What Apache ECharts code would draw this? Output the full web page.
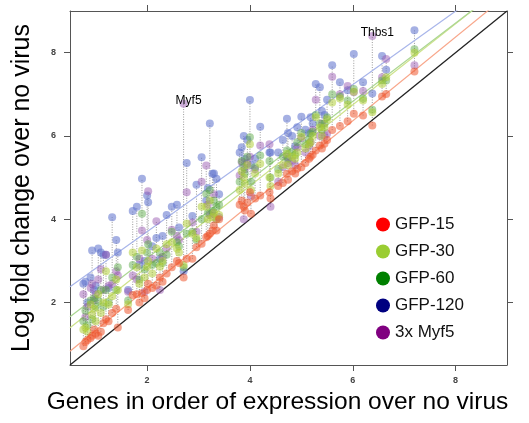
<!DOCTYPE html>
<html>
<head>
<meta charset="utf-8">
<script src="https://cdn.jsdelivr.net/npm/echarts@6/dist/echarts.min.js"></script>
<style>
  html, body { margin: 0; padding: 0; background: #fff; }
  #main { width: 529px; height: 423px; }
</style>
</head>
<body>
<div id="main"></div>
<script>
// gene position on the x axis (order of expression)
var geneX = [0.76, 0.80, 0.84, 0.90, 0.93, 0.97, 1.00, 1.05, 1.10, 1.15, 1.20, 1.25, 1.32, 1.40, 1.43,
  1.63, 1.72, 1.80, 1.85, 1.90, 1.95, 2.00, 2.02, 2.10, 2.18, 2.25, 2.30, 2.38, 2.48, 2.58, 2.62,
  2.71, 2.77, 2.88, 2.96, 3.06, 3.15, 3.18, 3.22, 3.27, 3.30, 3.35, 3.40,
  3.80, 3.84, 3.88, 3.90, 3.95, 4.00, 4.02, 4.10, 4.20, 4.38, 4.40,
  4.55, 4.64, 4.72, 4.74, 4.82, 4.88, 4.92, 5.00, 5.08, 5.15, 5.18, 5.22, 5.28, 5.36, 5.40, 5.45, 5.50, 5.60, 5.75,
  5.90, 6.02, 6.20, 6.38, 6.57, 6.65, 7.20];

// log fold change for each condition
var gfp15 = [0.95, 1.05, 1.10, 1.15, 1.20, 1.35, 1.25, 1.20, 1.30, 1.50, 1.60, 1.55, 1.75, 1.85, 1.40,
  1.82, 2.18, 2.20, 2.00, 2.22, 2.10, 2.30, 2.45, 2.35, 2.41, 2.60, 2.50, 2.70, 2.85, 3.00, 2.95,
  2.60, 3.05, 3.05, 3.33, 3.41, 3.57, 3.60, 3.65, 3.73, 3.85, 3.73, 4.00,
  4.35, 4.45, 4.30, 4.21, 4.40, 4.65, 4.13, 4.50, 4.57, 4.65, 4.50,
  4.80, 4.87, 5.09, 4.95, 5.15, 5.10, 5.21, 5.25, 5.35, 5.45, 5.50, 5.55, 5.65, 5.77, 5.70, 5.81, 5.90, 6.14, 6.24,
  6.35, 6.53, 6.49, 6.25, 6.95, 7.01, 7.55];
var gfp30 = [1.35, 1.40, 1.30, 1.95, 1.70, 1.85, 1.55, 2.20, 1.75, 2.00, 2.75, 1.95, 2.15, 2.55, 2.30,
  1.96, 3.20, 2.85, 2.45, 3.25, 2.60, 2.86, 3.00, 2.70, 3.30, 2.86, 3.00, 3.40, 3.45, 3.30, 3.20,
  2.90, 3.90, 3.65, 3.55, 4.30, 4.30, 4.00, 4.45, 4.05, 4.15, 4.00, 4.10,
  4.70, 5.15, 5.00, 4.85, 5.30, 5.80, 4.70, 5.10, 5.33, 5.00, 4.80,
  5.10, 5.30, 5.57, 5.30, 5.50, 5.45, 5.60, 5.98, 5.70, 5.80, 5.85, 6.00, 6.45, 6.20, 6.00, 6.20, 6.40, 6.80, 6.90,
  6.75, 7.06, 6.85, 6.57, 7.25, 7.41, 8.00];
var gfp60 = [1.55, 1.80, 1.45, 2.05, 1.60, 2.10, 1.90, 2.05, 2.30, 1.90, 2.30, 2.00, 2.60, 2.30, 2.85,
  2.05, 2.90, 3.10, 2.55, 4.13, 2.80, 3.20, 3.40, 2.90, 2.95, 3.20, 2.95, 3.15, 3.70, 3.45, 3.35,
  2.85, 3.65, 3.70, 3.50, 4.00, 4.61, 4.15, 4.70, 4.20, 4.45, 4.30, 4.35,
  4.90, 5.40, 5.25, 5.10, 5.50, 5.97, 4.90, 5.25, 5.53, 5.40, 5.00,
  5.20, 5.50, 5.65, 5.45, 5.60, 5.55, 5.85, 6.07, 5.80, 5.90, 6.05, 6.10, 6.50, 6.30, 6.15, 6.30, 6.45, 7.00, 6.95,
  6.85, 7.13, 6.90, 6.63, 7.33, 7.33, 8.08];
var gfp120 = [2.45, 2.50, 2.00, 2.60, 3.25, 2.30, 2.40, 3.30, 3.20, 3.15, 3.15, 2.35, 4.05, 3.50, 3.20,
  2.30, 4.20, 4.30, 2.90, 4.97, 3.00, 4.57, 4.41, 3.35, 3.55, 3.05, 3.60, 4.10, 4.30, 4.35, 3.80,
  2.75, 5.35, 4.08, 4.83, 5.49, 4.45, 4.75, 6.30, 5.09, 5.10, 4.97, 4.60,
  5.60, 5.73, 6.00, 5.45, 5.90, 6.86, 5.30, 5.45, 6.22, 5.60, 5.60,
  5.60, 5.90, 6.41, 6.07, 6.00, 5.75, 6.21, 6.46, 6.15, 6.07, 6.45, 6.30, 7.25, 7.17, 6.60, 6.50, 6.87, 7.70, 7.29,
  7.10, 7.97, 7.29, 7.02, 7.92, 7.59, 8.54];
var myf5x3 = [2.20, 1.65, 1.90, 2.35, 2.45, 2.05, 2.20, 2.55, 2.80, 2.30, 3.15, 2.40, 2.45, 2.75, 2.65,
  2.26, 2.65, 2.55, 3.05, 3.73, 2.25, 3.50, 4.67, 3.05, 3.95, 2.30, 3.10, 3.30, 3.75, 3.60, 3.50,
  6.77, 4.65, 3.92, 3.70, 4.90, 5.29, 4.35, 4.10, 4.15, 4.60, 4.00, 4.05,
  5.05, 5.37, 4.00, 5.20, 5.35, 5.50, 4.55, 5.20, 5.77, 5.80, 4.30,
  4.90, 5.25, 5.50, 5.35, 5.40, 5.30, 5.72, 5.95, 5.60, 5.75, 5.85, 6.15, 6.87, 6.00, 6.30, 6.00, 6.05, 7.42, 7.00,
  7.20, 7.05, 7.08, 8.40, 7.41, 7.85, 7.70];

var seriesNames = ['GFP-15', 'GFP-30', 'GFP-60', 'GFP-120', '3x Myf5'];
var legendColors = ['#ff0000', '#9acd32', '#008000', '#000080', '#800080'];
var pointColors = ['rgba(238,85,45,0.68)', 'rgba(175,205,50,0.65)', 'rgba(90,170,70,0.6)',
  'rgba(95,115,205,0.7)', 'rgba(150,85,175,0.6)'];

// fitted trend lines (GFP-15, GFP-30, GFP-60, GFP-120)
var fitSlope = [1.006, 0.973, 0.94, 0.882];
var fitIntercept = [0.327, 0.91, 1.19, 1.94];
var fitColors = ['#f8a68a', '#cde28a', '#aad692', '#a8b5ea'];

var tickValues = [2, 4, 6, 8];
var labeledGenes = { 'Myf5': 2.71, 'Thbs1': 6.38 };

var FONT = 'Liberation Sans, Arial, Helvetica, sans-serif';
var X_MIN = 0.5, X_MAX = 9;

var values = [gfp15, gfp30, gfp60, gfp120, myf5x3];

// vertical dotted span for every gene
var spans = geneX.map(function (x, j) {
  var col = values.map(function (v) { return v[j]; });
  return [x, Math.min.apply(null, col), Math.max.apply(null, col)];
});

var series = [];
series.push({
  type: 'custom',
  silent: true,
  z: 1,
  encode: { x: 0, y: [1, 2] },
  data: spans,
  renderItem: function (params, api) {
    var lo = api.coord([api.value(0), api.value(1)]);
    var hi = api.coord([api.value(0), api.value(2)]);
    return {
      type: 'line',
      shape: { x1: lo[0], y1: lo[1], x2: hi[0], y2: hi[1] },
      style: { stroke: '#9a9a9a', lineWidth: 1, lineDash: [1, 1.5] }
    };
  }
});

// diagonal
series.push({
  type: 'line', silent: true, z: 2, showSymbol: false,
  data: [[X_MIN, X_MIN], [X_MAX, X_MAX]],
  lineStyle: { color: '#222', width: 1.3 }
});

fitSlope.forEach(function (s, i) {
  series.push({
    type: 'line', silent: true, z: 2, showSymbol: false, clip: true,
    data: [[X_MIN, fitIntercept[i] + s * X_MIN], [X_MAX, fitIntercept[i] + s * X_MAX]],
    lineStyle: { color: fitColors[i], width: 1.2 }
  });
});

// draw order: blue, purple, green, yellow-green, red on top
[3, 4, 2, 1, 0].forEach(function (i) {
  series.push({
    name: seriesNames[i],
    type: 'scatter',
    z: 3,
    symbolSize: 8,
    itemStyle: { color: pointColors[i] },
    data: geneX.map(function (x, j) {
      var item = { value: [x, values[i][j]] };
      if (i === 4) {
        for (var g in labeledGenes) {
          if (labeledGenes[g] === x) {
            item.label = {
              show: true, formatter: g, position: 'inside', offset: [5, -3],
              color: '#000', opacity: 1, fontSize: 12, fontFamily: FONT,
              textBorderWidth: 0, textShadowBlur: 0
            };
          }
        }
      }
      return item;
    })
  });
});

function axisCommon(pos, showLabel) {
  return {
    type: 'value', min: X_MIN, max: X_MAX, position: pos,
    axisLine: { show: true, onZero: false, lineStyle: { color: '#555', width: 1 } },
    axisTick: { show: true, customValues: tickValues, length: 6, lineStyle: { color: '#555' } },
    axisLabel: {
      show: showLabel, customValues: tickValues, fontSize: 9, fontWeight: 'bold',
      color: '#444', fontFamily: FONT
    },
    splitLine: { show: false }
  };
}

var xBottom = axisCommon('bottom', true);
xBottom.axisLabel.margin = 11;
xBottom.name = 'Genes in order of expression over no virus';
xBottom.nameLocation = 'middle';
xBottom.nameGap = 19;
xBottom.nameTextStyle = { fontSize: 24.5, color: '#000', fontFamily: FONT, padding: [0, 22, 0, 0] };

var yLeft = axisCommon('left', true);
yLeft.axisLabel.margin = 14;
yLeft.name = 'Log fold change over no virus';
yLeft.nameLocation = 'middle';
yLeft.nameGap = 35;
yLeft.nameTextStyle = { fontSize: 25, color: '#000', fontFamily: FONT };

var chart = echarts.init(document.getElementById('main'));
chart.setOption({
  animation: false,
  backgroundColor: '#fff',
  grid: { left: 70, right: 22, top: 11, bottom: 58 },
  xAxis: [xBottom, axisCommon('top', false)],
  yAxis: [yLeft, axisCommon('right', false)],
  legend: {
    orient: 'vertical', left: 371, top: 211,
    itemWidth: 14, itemHeight: 14, itemGap: 10, icon: 'circle',
    textStyle: { fontSize: 17, color: '#111', fontFamily: FONT },
    data: seriesNames.map(function (n, i) {
      return { name: n, itemStyle: { color: legendColors[i], opacity: 1 } };
    })
  },
  series: series
});
</script>
</body>
</html>
